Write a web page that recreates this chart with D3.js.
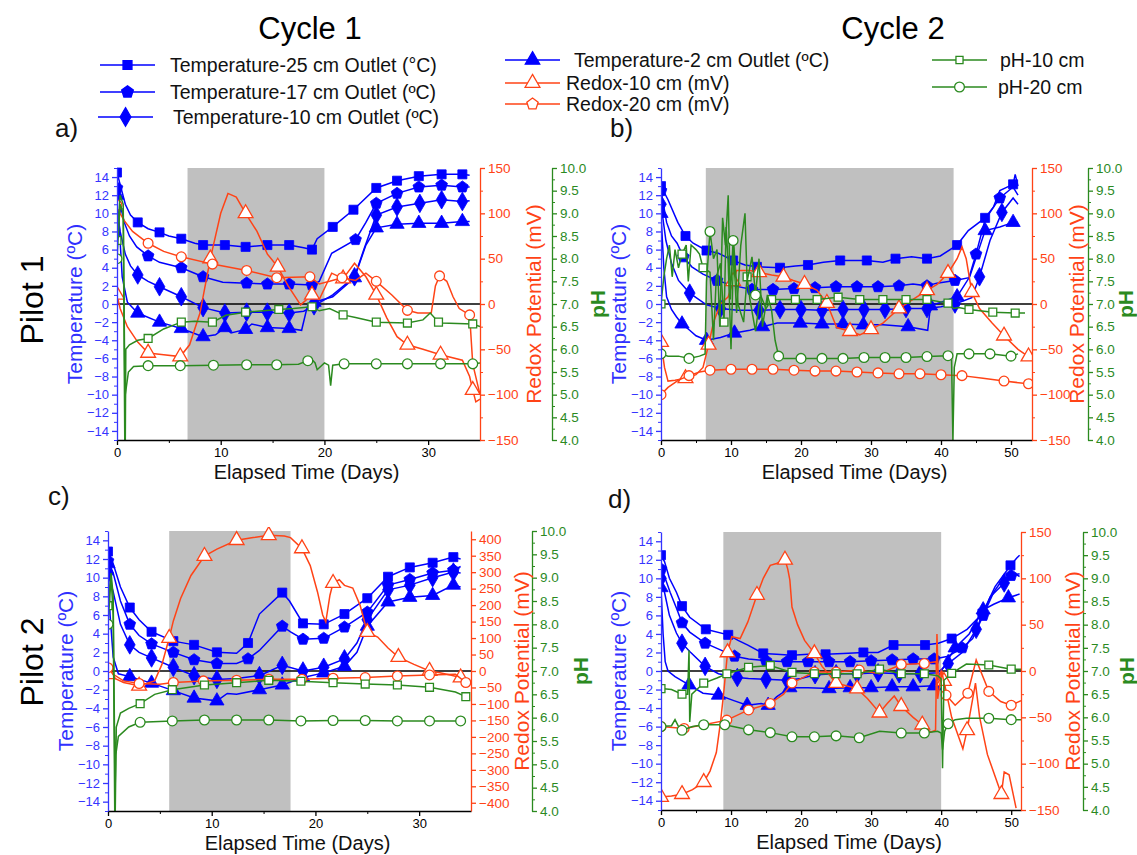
<!DOCTYPE html>
<html><head><meta charset="utf-8">
<script src="https://cdn.jsdelivr.net/npm/d3@7"></script>
<style>body{margin:0;background:#fff}svg{font-family:Arial,"Liberation Sans",sans-serif}</style>
</head><body><svg id="chart" width="1137" height="855"></svg>
<script>
// [day, value] pairs. temps in C, redox in mV, pH
var a_t25=[[0,14.5],[0.3,13.2],[0.8,11],[1.3,9.8],[2,9.0],[3,8.3],[4.1,7.9],[5,7.5],[6.2,7.2],[7.5,6.7],[8.3,6.5],[10.4,6.5],[12.4,6.3],[14.5,6.5],[16.6,6.5],[18,6.2],[18.8,6.0],[19.3,7.2],[20.8,8.5],[22.8,10.4],[25,12.8],[27,13.6],[29.1,14.1],[31.3,14.3],[33.3,14.3],[34,14.2]];
var a_t17=[[0,12.8],[0.3,11],[0.7,9],[1.2,7.5],[1.9,6.3],[3,5.3],[4.1,4.6],[6.2,4.0],[8.3,3.0],[10.2,2.4],[12.5,2.3],[14.5,2.2],[16.6,2.2],[18.8,2.1],[19.5,2.5],[20.7,5.6],[23,7.1],[24,9],[25,11.1],[27,12.2],[29.1,12.9],[31.3,13.1],[33.3,12.9],[34,12.9]];
var a_t10=[[0,10.5],[0.3,8],[0.8,5.5],[1.3,4.2],[2,3.2],[3,2.5],[4.1,1.9],[6.2,0.8],[8.3,-0.4],[10.4,-1.0],[12.5,-0.9],[14.5,-0.9],[16.6,-1.0],[18,-0.8],[19,-0.2],[20.8,1.0],[22.9,3.0],[23.8,6],[25,9.8],[27,10.7],[29.2,11.1],[31.3,11.5],[33.3,11.3],[34,11.4]];
var a_t2=[[0,12],[0.2,9],[0.5,3],[1,0.2],[2,-1.0],[4.1,-2.0],[6.2,-2.7],[8.3,-3.6],[9.5,-3.4],[10.4,-2.6],[11,-3.2],[12.4,-2.8],[13,-2.2],[14.5,-2.6],[16.6,-2.7],[17.8,-2.9],[18.3,-0.5],[19,0.2],[20.8,0.8],[22.9,2.9],[24,6.5],[25,8.4],[27,8.8],[29.1,8.9],[31.3,8.9],[33.3,9.1],[34,9.1]];
var a_rx10=[[0,10],[0.3,-5],[1,-25],[2,-42],[3,-54],[4.5,-56],[6.1,-58],[7,-45],[8,-10],[9,50],[10,100],[10.7,122],[11.5,118],[12.4,100],[13.5,80],[14.5,55],[15.5,41],[16.5,20],[17.7,-1],[18.8,10],[19.5,5],[20.7,34],[21.8,28],[22.9,45],[24,30],[25,10],[26,-15],[27,-36],[28,-45],[29.5,-50],[31.2,-56],[33.3,-62],[34,-80],[34.3,-95],[34.6,-108],[35,-105]];
var a_rx20=[[0,109],[0.3,100],[0.7,92],[1.5,80],[3,67],[4.5,58],[6.2,52],[9.2,44],[12.5,37],[15.4,29],[18.6,30],[19.5,22],[20.5,25],[21.7,29],[23,26],[24,34],[25,25],[26.5,10],[28,-7],[29,-10],[30.3,-10],[30.7,20],[31.1,31],[31.8,25],[32.4,8],[33,-5],[34,-12],[34.3,-66],[35,-100]];
var a_ph10=[[0,8.4],[0.3,9.4],[0.6,9.2],[0.8,4.0],[0.85,6.0],[1.2,6.1],[2,6.2],[3,6.24],[4.5,6.45],[6.2,6.6],[7.5,6.62],[9.2,6.6],[10.5,6.75],[12.4,6.82],[15.6,6.88],[17,6.9],[18.8,6.94],[19.5,6.85],[20.5,6.9],[21.8,6.76],[23,6.7],[25,6.6],[28,6.58],[29.5,6.65],[30.2,6.8],[31,6.6],[31.3,6.58],[34.3,6.56],[35,6.5]];
var a_ph20=[[0,8.0],[0.3,9.2],[0.6,9.0],[0.75,4.0],[0.8,5.0],[1.1,5.5],[1.6,5.62],[3,5.64],[6.1,5.64],[9.3,5.65],[12.5,5.66],[15.4,5.66],[17.5,5.67],[18.4,5.75],[18.7,5.8],[19.1,5.7],[19.3,5.55],[20,5.7],[20.4,5.65],[20.6,5.2],[20.8,5.65],[21.9,5.68],[25,5.68],[28,5.68],[31.2,5.68],[34.3,5.68],[35,5.7]];

var b_t25=[[0,13],[1,11.5],[2.4,9],[3.5,7.5],[4.6,6.7],[6.5,5.9],[8.2,5.6],[10.3,4.8],[12,4.3],[13.7,4.1],[17,4.0],[19.2,4.2],[21,4.3],[23.2,4.6],[25.6,4.8],[27,4.8],[29.4,4.8],[31.7,4.6],[33.5,5],[35.8,5.2],[38,5.0],[39.9,5.3],[42.3,6.5],[43.9,8.1],[46.3,9.5],[47.5,10.7],[48.4,12.5],[50.3,13.2],[50.6,14.3],[51,13]];
var b_t17=[[0,12.5],[0.8,9],[1.5,7.5],[2.3,6.7],[3.2,5.2],[4.4,4.1],[6,3.3],[8,2.6],[10.5,2.0],[13,1.6],[16,1.6],[19,1.7],[22,1.8],[25,1.9],[28,1.9],[31,1.9],[34,2.0],[36,2.2],[38,2.0],[39.4,2.3],[42,2.6],[44,2.9],[45,5.5],[46.3,9.3],[48.4,11.7],[50.3,12.9],[51,12]];
var b_t10=[[0,11],[0.7,7],[1.5,4.5],[2.5,2.6],[4.1,1.2],[6.5,-0.1],[8.5,-0.5],[11,-0.7],[14,-0.7],[17,-0.6],[20,-0.6],[23,-0.7],[26,-0.6],[29,-0.6],[32,-0.6],[35,-0.5],[38,-0.5],[40,-0.3],[42,0],[44.4,0.7],[45.5,3],[47,7],[48.7,10.1],[50.3,11.7],[51,11]];
var b_t2=[[0,10],[0.4,4],[0.8,0.8],[1.5,-0.6],[2.2,-1.4],[3,-2.2],[4.1,-2.9],[5,-3.5],[6.5,-4.0],[8.5,-3.7],[10.5,-3.2],[12.7,-2.9],[14.5,-2.5],[16.6,-2.1],[19.9,-2.1],[23,-2.2],[26,-2.2],[28.9,-2.3],[31.7,-2.3],[35.3,-2.5],[38.1,-2.9],[38.5,-0.2],[40,0.2],[42.3,0.8],[44.1,3.0],[46.3,8.1],[48.4,8.5],[50.3,9.0],[51,9.0]];
var b_rx10=[[0,-42],[0.5,-70],[1,-85],[2,-84],[3.5,-82],[5,-78],[6,-70],[6.8,-45],[7.5,-20],[8.5,0],[9.6,8],[10.3,25],[10.8,37],[12.7,37],[14,35],[15.8,32],[17.5,30],[18.9,26],[20.5,22],[22.3,15],[23.7,1],[25.1,-26],[27,-30],[28.4,-34],[30,-28],[31.7,-21],[34,-5],[36,5],[38,15],[39.5,22],[41,34],[42.3,50],[43,63],[43.6,50],[44.4,13],[45.5,-5],[47.3,-21],[49,-35],[51,-50],[52.5,-58]];
var b_rx20=[[0,-100],[1,-92],[2.5,-84],[4,-79],[5.5,-75],[7,-73],[10,-72],[13,-72],[16,-72],[19,-73],[22,-74],[25,-74],[28,-75],[31,-76],[34,-77],[37,-77],[40,-78],[43,-79],[46,-82],[49,-85],[52.5,-88]];
var b_ph10=[[0,7.0],[0.4,7.6],[0.8,8.0],[1.2,8.3],[1.6,7.6],[2,8.2],[2.5,7.8],[3,8.1],[3.6,8.3],[3.9,7.5],[4.3,8.3],[5,8.2],[5.5,8.1],[6,7.8],[6.5,7.75],[7,7.7],[7.5,6.2],[7.9,7.6],[8.5,7.9],[9,6.6],[9.3,8.7],[9.6,7.9],[10,6.0],[10.4,8.3],[11,7.0],[11.8,6.6],[12.3,7.6],[12.7,7.1],[13.5,6.4],[14.2,7.2],[15,6.9],[15.8,7.1],[17,7.1],[19.2,7.1],[22.3,7.1],[25.3,7.15],[28.4,7.1],[31.7,7.1],[35,7.1],[38,7.1],[41,7.02],[41.8,6.9],[42.5,6.92],[44,6.88],[47.4,6.82],[50.6,6.8],[52,6.8]];
var b_ph20=[[0,5.9],[1,5.85],[2.5,5.85],[4,5.8],[5.5,5.85],[6.3,5.9],[6.5,7.5],[7,8.6],[7.5,8.0],[8,8.2],[8.4,6.5],[8.8,8.9],[9.2,8.3],[9.6,9.4],[9.9,7.1],[10.3,8.4],[10.8,6.8],[11.4,8.3],[12,9.0],[12.3,7.5],[13,8.04],[13.5,7.2],[14,8.0],[14.5,6.5],[15.2,7.2],[15.8,6.86],[16.3,6.2],[16.8,5.85],[17.5,5.8],[20,5.8],[23,5.8],[26,5.8],[29,5.82],[32,5.82],[35,5.82],[38,5.84],[41,5.86],[41.5,5.85],[41.7,4.0],[41.9,5.6],[42.3,5.9],[44,5.9],[47,5.9],[50,5.85],[51,5.9]];

var c_t25=[[0,12.8],[0.5,11.5],[1.2,9],[2.1,6.8],[3,5.5],[4.2,4.2],[6.3,3.2],[8.3,2.8],[10.5,2.0],[12.4,1.9],[13.5,3],[14.6,6.1],[16.8,8.4],[17.5,7.5],[18.8,5.1],[20.8,5.0],[22.8,6.1],[25,7.8],[27,10.1],[29.1,11.1],[31.3,11.6],[33.3,12.2],[34,12]];
var c_t17=[[0,11.8],[0.5,10.5],[1.2,7.5],[2.1,5.0],[3,3.8],[4.2,2.9],[6.3,2.0],[8.3,1.2],[10.5,0.8],[12.4,0.8],[13.5,1.3],[14.6,2.2],[16.8,4.8],[17.6,4.2],[18.8,3.4],[20.8,3.5],[22.8,4.7],[25,6.3],[27,9.2],[29.1,9.8],[31.3,10.5],[33.3,10.8],[34,11.2]];
var c_t10=[[0,10.5],[0.5,8.5],[1.2,5],[2.1,2.8],[3,2.0],[4.2,1.4],[6.3,0.4],[8.3,-0.5],[10.5,-0.9],[12.4,-0.8],[14.6,-0.5],[16.8,0.6],[18.8,0],[20.8,0.4],[22.8,1.3],[24,3],[25,5.5],[27,8.7],[29.1,9.2],[31.3,10],[33.3,10.6],[34,10.5]];
var c_t2=[[0,11.5],[0.2,6],[0.5,1.5],[1,-0.3],[2.1,-0.6],[4.2,-1.3],[6.3,-2.1],[8.3,-2.9],[10.5,-3.2],[11.5,-2.4],[12.4,-2.5],[14.6,-2.0],[16.8,-1.5],[18.8,-0.7],[20.8,-0.2],[22.8,0.5],[24,2],[25,4.8],[27,7.4],[29.1,7.9],[31.3,8.1],[33.3,9.2],[34,9]];
var c_rx10=[[0,-10],[0.5,-20],[1.5,-35],[3,-45],[4.5,-30],[5.2,20],[5.9,100],[6.3,152],[7,220],[8,290],[9.3,349],[10.5,370],[12.4,397],[14,405],[15.5,412],[17,410],[17.6,405],[18.7,372],[19.5,320],[20.2,240],[20.7,170],[21,149],[21.4,230],[21.7,267],[22.3,277],[22.8,260],[23.6,252],[24.3,200],[25,118],[26,103],[27,70],[28,42],[29.5,20],[31,0],[32,-5],[33,-12],[34,-20],[34.5,-40]];
var c_rx20=[[0,10],[0.5,-10],[1.5,-30],[3,-38],[5,-40],[6.3,-35],[9.2,-30],[12.4,-28],[15.5,-25],[18.7,-25],[21.7,-22],[24.8,-20],[27.9,-15],[31,-12],[33.5,-10],[34.5,-35]];
var c_ph10=[[0,8.4],[0.3,9.1],[0.5,8.6],[0.7,4.0],[0.8,5.8],[1.2,6.1],[2,6.2],[3.1,6.3],[4.5,6.5],[6.2,6.6],[9.3,6.7],[12.4,6.75],[15.5,6.8],[18.6,6.78],[21.7,6.75],[24.8,6.72],[27.9,6.7],[31,6.65],[33.5,6.55],[34.5,6.45]];
var c_ph20=[[0,8.0],[0.3,9.0],[0.5,8.2],[0.65,4.0],[0.75,5.2],[1,5.6],[2,5.8],[3.1,5.9],[6.2,5.93],[9.3,5.95],[12.4,5.95],[15.5,5.95],[18.6,5.93],[21.7,5.94],[24.8,5.94],[27.9,5.93],[31,5.93],[34,5.93]];

var d_t25=[[0,12.5],[0.5,11.8],[1.2,10],[2.2,8.5],[3,7],[4.1,5.8],[6.4,4.5],[9.6,3.9],[11,3.3],[12.4,2.8],[14.6,1.9],[16.5,1.8],[18.7,1.7],[21,1.8],[23.5,1.8],[26,1.9],[28.9,2.0],[31,2.0],[33.2,2.8],[35.3,2.8],[37.7,2.8],[39.6,3.0],[41.5,3.5],[43.7,4.5],[45.9,6.2],[47.7,9.1],[49.9,11.4],[50.8,12.2],[51.2,12.5]];
var d_t17=[[0,11],[0.6,10],[1.3,8.5],[2.2,6.8],[3,5.2],[4.1,4.2],[6.3,3.0],[8.4,2.3],[10.5,1.6],[12.5,1.3],[15,1.1],[18,1.0],[21,1.0],[24,1.0],[27,1.0],[30,1.1],[33,1.2],[36,1.3],[39,1.3],[41,1.6],[43,2.5],[44.5,3.5],[46,6],[47.5,8.5],[48.7,9.8],[50,10.3],[51.2,10.5]];
var d_t10=[[0,10],[0.5,8.5],[1.2,6],[2.2,4.1],[3,3],[4.1,2.1],[6.3,0.5],[8.2,-0.3],[10.9,-0.7],[12.5,-0.8],[15,-0.9],[18,-1.0],[20,-0.8],[22,-0.4],[25,-0.3],[28,-0.3],[31,-0.2],[34,-0.3],[37,-0.3],[39.5,-0.2],[41,0.8],[43,2],[45,4.5],[47,8],[49,9.5],[50.5,10.5],[51.2,10.2]];
var d_t2=[[0,9],[0.3,4],[0.6,1],[1,0],[2,-0.6],[4,-1.5],[6,-2.4],[8.2,-2.6],[10.4,-3.2],[12.3,-3.7],[14.3,-3.5],[15.3,-3.7],[16.5,-2.8],[18.4,-1.8],[21,-1.8],[24,-1.9],[27,-1.8],[30,-1.8],[33,-1.7],[36,-1.7],[39,-1.6],[40,0],[42,2.5],[44,4],[46,6.6],[47.5,7.2],[49.6,7.9],[51.2,8.3]];
var d_rx10=[[0,-136],[1.5,-135],[3,-133],[4.5,-128],[6.1,-120],[7,-108],[7.9,-88],[8.5,-55],[9,-20],[9.5,20],[10.1,37],[11.3,35],[12.4,53],[13.7,82],[14.6,100],[15.6,114],[16.5,116],[17.7,120],[18.1,110],[18.4,98],[18.7,69],[19.5,50],[20.5,33],[21.9,19],[23,5],[25,-13],[28,-19],[29.5,-30],[31.2,-45],[32.3,-35],[33.3,-27],[34.3,-38],[36,-50],[37.3,-58],[38.5,-66],[39.2,-64],[39.4,40],[39.6,-10],[40,0],[40.4,-11],[41.5,-50],[43.1,-84],[43.7,-64],[44.9,-13],[45.5,-50],[46.6,-90],[48.6,-133],[49,-109],[49.7,-112],[50.7,-148]];
var d_rx20=[[0,-60],[3.3,-62],[6.1,-58],[9.4,-53],[12.5,-42],[15.6,-35],[17.5,-25],[18.7,-13],[21.9,-1],[25,-1],[28.3,1],[31.2,-3],[34.3,7],[37.6,8],[39.3,10],[39.5,-30],[40.1,0],[40.7,-26],[42,-37],[43.8,-24],[45,12],[46.8,-22],[48.5,-33],[50,-37],[51.4,-32]];
var d_ph10=[[0,6.62],[1.5,6.6],[3,6.5],[3.8,6.5],[4,7.45],[4.1,5.9],[4.4,6.5],[6.1,6.74],[8,6.85],[9.4,6.94],[12.5,7.08],[15.6,7.12],[18.7,6.97],[21.9,6.94],[25,6.94],[28,6.94],[31.2,7.04],[34.3,6.94],[37.6,6.94],[39.5,6.9],[40,6.83],[40.2,4.9],[40.4,6.8],[41.5,6.95],[43.6,7.15],[46.8,7.13],[50,7.04],[51.4,7.04]];
var d_ph20=[[0,5.8],[1.5,5.82],[2,5.95],[2.5,5.8],[3,5.72],[4.5,5.8],[6.1,5.84],[9.1,5.84],[12.5,5.73],[15.6,5.67],[18.7,5.58],[21.9,5.58],[25,5.6],[28.3,5.56],[31.2,5.7],[34.3,5.66],[37.6,5.66],[39.5,5.7],[40,5.66],[40.2,5.3],[40.5,5.7],[41,5.86],[42,5.95],[43.6,5.98],[46.8,5.98],[50,5.95],[51.4,5.95]];

var shades={a:[6.8,20],b:[6.4,41.8],c:[5.9,17.6],d:[8.9,40]};
var dayTicks={a:[0,10,20,30],b:[0,10,20,30,40,50],c:[0,10,20,30],d:[0,10,20,30,40,50]};

var BLUE='#0000ff', RED='#ff4316', GREEN='#2b8a1f';
var svg=d3.select('#chart');

var pentagon={draw:function(ctx,size){var r=Math.sqrt(size/2.38);for(var i=0;i<5;i++){var a=-Math.PI/2+i*2*Math.PI/5;if(i==0)ctx.moveTo(r*Math.cos(a),r*Math.sin(a));else ctx.lineTo(r*Math.cos(a),r*Math.sin(a));}ctx.closePath();}};

var panels=[
 {id:'a',x0:117,x1:480,days:35,top:168,bottom:440,phX:552,phT:46,rT:54,rx:150,lx:55,ly:137,
  t:[a_t25,a_t17,a_t10,a_t2],r:[a_rx10,a_rx20],p:[a_ph10,a_ph20],gap:30},
 {id:'b',x0:661,x1:1032,days:53,top:168,bottom:440,phX:1088,phT:38,rT:45,rx:150,lx:610,ly:137,
  t:[b_t25,b_t17,b_t10,b_t2],r:[b_rx10,b_rx20],p:[b_ph10,b_ph20],gap:21},
 {id:'c',x0:108,x1:471,days:35,top:531,bottom:811,phX:532,phT:49,rT:51,rx:425,lx:48,ly:505,
  t:[c_t25,c_t17,c_t10,c_t2],r:[c_rx10,c_rx20],p:[c_ph10,c_ph20],gap:30},
 {id:'d',x0:661,x1:1021,days:51.4,top:532,bottom:810,phX:1083,phT:44,rT:52,rx:150,lx:608,ly:508,
  t:[d_t25,d_t17,d_t10,d_t2],r:[d_rx10,d_rx20],p:[d_ph10,d_ph20],gap:21}
];
var tSym=[d3.symbolSquare,pentagon,d3.symbolDiamond,d3.symbolTriangle];
var tSize=[82,90,100,88];

function spaced(pts,x,gap){var last=-1e9;return pts.filter(function(p){var px=x(p[0]);if(px-last>=gap){last=px;return true;}return false;});}

function drawSeries(g,pts,x,y,color,sym,size,filled,gap){
  var line=d3.line().x(function(d){return x(d[0]);}).y(function(d){return y(d[1]);});
  g.append('path').attr('d',line(pts)).attr('fill','none').attr('stroke',color).attr('stroke-width',1.5);
  g.selectAll(null).data(spaced(pts,x,gap)).enter().append('path')
   .attr('transform',function(d){return 'translate('+x(d[0])+','+y(d[1])+')';})
   .attr('d',d3.symbol().type(sym).size(size))
   .attr('fill',filled?color:'#fff').attr('stroke',color).attr('stroke-width',filled?0.8:1.3);
}

function styleAxis(sel,color,fs){
  sel.selectAll('path,line').attr('stroke',color).attr('stroke-width',1.3);
  sel.selectAll('text').attr('fill',color).style('font-size',fs+'px').style('font-family','Arial,"Liberation Sans",sans-serif');
}

panels.forEach(function(P){
  var x=d3.scaleLinear().domain([0,P.days]).range([P.x0,P.x1]);
  var yT=d3.scaleLinear().domain([-15,15]).range([P.bottom,P.top]);
  var yR=d3.scaleLinear().domain([-P.rx,P.rx]).range([P.bottom,P.top]);
  var yP=d3.scaleLinear().domain([4,10]).range([P.bottom,P.top]);
  var g=svg.append('g');
  var cid='clip'+P.id;
  svg.append('clipPath').attr('id',cid).append('rect').attr('x',P.x0).attr('y',P.top-4).attr('width',P.x1-P.x0).attr('height',P.bottom-P.top+4);

  var sh=shades[P.id];
  g.append('rect').attr('x',x(sh[0])).attr('y',P.top).attr('width',x(sh[1])-x(sh[0])).attr('height',P.bottom-P.top).attr('fill','#c0c0c0');
  g.append('line').attr('x1',P.x0).attr('x2',P.x1).attr('y1',yT(0)).attr('y2',yT(0)).attr('stroke','#000').attr('stroke-width',1.4);

  var plot=g.append('g').attr('clip-path','url(#'+cid+')');
  P.t.forEach(function(s,i){drawSeries(plot,s,x,yT,BLUE,tSym[i],tSize[i],true,20);});
  drawSeries(plot,P.r[0],x,yR,RED,d3.symbolTriangle,95,false,P.gap);
  drawSeries(plot,P.r[1],x,yR,RED,d3.symbolCircle,75,false,P.gap);
  drawSeries(plot,P.p[0],x,yP,GREEN,d3.symbolSquare,62,false,P.gap);
  drawSeries(plot,P.p[1],x,yP,GREEN,d3.symbolCircle,75,false,P.gap);

  // axes
  var ax=g.append('g').attr('transform','translate(0,'+P.bottom+')').call(d3.axisBottom(x).tickValues(dayTicks[P.id]).tickSize(5).tickSizeOuter(0));
  styleAxis(ax,'#000',13);
  g.append('g').attr('transform','translate(0,'+P.bottom+')').call(d3.axisBottom(x).tickValues(dayTicks[P.id].map(function(v){return v+5;}).filter(function(v){return v<P.days;})).tickSize(3).tickFormat('')).call(function(s){s.select('.domain').remove();s.selectAll('line').attr('stroke','#000');});

  var al=g.append('g').attr('transform','translate('+P.x0+',0)').call(d3.axisLeft(yT).tickValues(d3.range(-14,15,2)).tickSize(5).tickSizeOuter(0).tickFormat(d3.format('d')));
  styleAxis(al,'#3535ff',13);
  g.append('g').attr('transform','translate('+P.x0+',0)').call(d3.axisLeft(yT).tickValues(d3.range(-15,16,2)).tickSize(3).tickFormat('')).call(function(s){s.select('.domain').remove();s.selectAll('line').attr('stroke','#3535ff');});

  var rStep=50;
  var ar=g.append('g').attr('transform','translate('+P.x1+',0)').call(d3.axisRight(yR).tickValues(d3.range(-Math.floor(P.rx/rStep)*rStep,P.rx+1,rStep)).tickSize(5).tickSizeOuter(0));
  styleAxis(ar,RED,13.5);
  if(P.rx<200){g.append('g').attr('transform','translate('+P.x1+',0)').call(d3.axisRight(yR).tickValues(d3.range(-125,150,50)).tickSize(3).tickFormat('')).call(function(s){s.select('.domain').remove();s.selectAll('line').attr('stroke',RED);});}

  var ap=g.append('g').attr('transform','translate('+P.phX+',0)').call(d3.axisRight(yP).tickValues(d3.range(4,10.01,0.5)).tickSize(5).tickSizeOuter(0).tickFormat(d3.format('.1f')));
  styleAxis(ap,GREEN,13.5);
  g.append('g').attr('transform','translate('+P.phX+',0)').call(d3.axisRight(yP).tickValues(d3.range(4.25,10,0.5)).tickSize(3).tickFormat('')).call(function(s){s.select('.domain').remove();s.selectAll('line').attr('stroke',GREEN);});

  var mid=(P.top+P.bottom)/2;
  g.append('text').attr('transform','translate('+(P.x0-42)+','+mid+') rotate(-90)').attr('text-anchor','middle').attr('dy','0.35em').attr('fill','#3030ff').style('font-size','21px').text('Temperature (ºC)');
  g.append('text').attr('transform','translate('+(P.x1+P.rT)+','+mid+') rotate(-90)').attr('text-anchor','middle').attr('dy','0.35em').attr('fill',RED).style('font-size','21px').text('Redox Potential (mV)');
  g.append('text').attr('transform','translate('+(P.phX+P.phT)+','+mid+') rotate(-90)').attr('text-anchor','middle').attr('dy','0.35em').attr('fill',GREEN).style('font-size','21px').style('font-weight','bold').text('pH');
  g.append('text').attr('x',(P.x0+P.x1)/2+8).attr('y',P.bottom+39).attr('text-anchor','middle').style('font-size','20px').attr('fill','#111').text('Elapsed Time (Days)');
  g.append('text').attr('x',P.lx).attr('y',P.ly).style('font-size','26px').attr('fill','#111').text(P.id+')');
});

// headings
svg.append('text').attr('x',310).attr('y',39).attr('text-anchor','middle').style('font-size','31px').text('Cycle 1');
svg.append('text').attr('x',893).attr('y',39).attr('text-anchor','middle').style('font-size','31px').text('Cycle 2');
svg.append('text').attr('transform','translate(32,300) rotate(-90)').attr('text-anchor','middle').attr('dy','0.35em').style('font-size','32px').text('Pilot 1');
svg.append('text').attr('transform','translate(32,662) rotate(-90)').attr('text-anchor','middle').attr('dy','0.35em').style('font-size','32px').text('Pilot 2');

// legend
var legendItems=[
 {x:100,y:65,c:BLUE,s:d3.symbolSquare,z:80,f:true,t:'Temperature-25 cm Outlet (°C)',tx:170},
 {x:100,y:92,c:BLUE,s:pentagon,z:90,f:true,t:'Temperature-17 cm Outlet (ºC)',tx:170},
 {x:98,y:117,c:BLUE,s:d3.symbolDiamond,z:100,f:true,t:'Temperature-10 cm Outlet (ºC)',tx:173},
 {x:505,y:60,c:BLUE,s:d3.symbolTriangle,z:90,f:true,t:'Temperature-2 cm Outlet (ºC)',tx:574},
 {x:505,y:83,c:RED,s:d3.symbolTriangle,z:95,f:false,t:'Redox-10 cm (mV)',tx:566},
 {x:505,y:104,c:RED,s:pentagon,z:85,f:false,t:'Redox-20 cm (mV)',tx:566},
 {x:932,y:60,c:GREEN,s:d3.symbolSquare,z:50,f:false,t:'pH-10 cm',tx:1000},
 {x:932,y:87,c:GREEN,s:d3.symbolCircle,z:75,f:false,t:'pH-20 cm',tx:998}
];
var lg=svg.append('g');
legendItems.forEach(function(L){
  lg.append('line').attr('x1',L.x).attr('x2',L.x+55).attr('y1',L.y).attr('y2',L.y).attr('stroke',L.c).attr('stroke-width',1.4);
  lg.append('path').attr('transform','translate('+(L.x+27.5)+','+L.y+')').attr('d',d3.symbol().type(L.s).size(L.z)).attr('fill',L.f?L.c:'#fff').attr('stroke',L.c).attr('stroke-width',1.3);
  lg.append('text').attr('x',L.tx).attr('y',L.y).attr('dy','0.35em').style('font-size','19.5px').attr('fill','#111').text(L.t);
});
</script></body></html>
